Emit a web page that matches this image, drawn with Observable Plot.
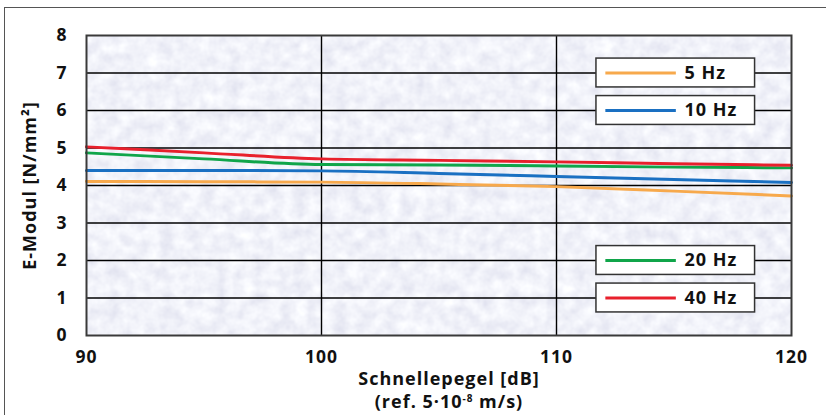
<!DOCTYPE html>
<html>
<head>
<meta charset="utf-8">
<script src="https://cdn.jsdelivr.net/npm/d3@7"></script>
<script src="https://cdn.jsdelivr.net/npm/@observablehq/plot@0.6"></script>
<style>
  html, body { margin: 0; padding: 0; background: #fff; }
  #wrap { position: relative; width: 826px; height: 415px; overflow: hidden; }
  #wrap svg { display: block; }
  #border { position: absolute; left: 4px; top: 7px; width: 900px; height: 500px;
            border: 1.5px solid #555; pointer-events: none; }
</style>
</head>
<body>
<div id="wrap"><div id="border"></div></div>
<script>
// ---- data ----
const xValues = [90, 95, 100, 105, 110, 115, 120];
const hz5  = [4.11, 4.10, 4.09, 4.04, 3.97, 3.85, 3.72];
const hz10 = [4.40, 4.40, 4.39, 4.32, 4.24, 4.16, 4.08];
const hz20 = [4.87, 4.71, 4.56, 4.55, 4.52, 4.49, 4.47];
const hz40 = [5.03, 4.87, 4.71, 4.67, 4.63, 4.58, 4.54];
const seriesNames = ["5 Hz", "10 Hz", "20 Hz", "40 Hz"];
const seriesColors = ["#f7a94c", "#1a70c2", "#10a54a", "#e8202c"];
const xTicks = [90, 100, 110, 120];
const yTicks = [0, 1, 2, 3, 4, 5, 6, 7, 8];
const yLabel = "E-Modul [N/mm²]";
const xLabelLine1 = "Schnellepegel [dB]";
const xLabelLine2 = "(ref. 5·10-8 m/s)";

// legend layout (gridline level each legend box sits on)
const legendLevels = [7, 6, 2, 1];

// ---- build table ----
const seriesValues = [hz5, hz10, hz20, hz40];
const rows = [];
seriesNames.forEach((name, i) => {
  xValues.forEach((x, j) => rows.push({series: name, x, y: seriesValues[i][j]}));
});
const legendRows = seriesNames.map((name, i) => ({series: name, level: legendLevels[i]}));

const font = "'Open Sans', 'DejaVu Sans', sans-serif";
const boxX1 = 111.7, boxX2 = 118.45, lineX1 = 112.1, lineX2 = 115.1, textX = 115.45, halfH = 0.385;

const chart = Plot.plot({
  width: 826,
  height: 415,
  marginLeft: 86,
  marginRight: 35,
  marginTop: 35,
  marginBottom: 80,
  style: {fontFamily: font, fontSize: "17px", fontWeight: "bold", color: "#111", background: "transparent"},
  x: {domain: [90, 120], label: null},
  y: {domain: [0, 8], label: null},
  color: {domain: seriesNames, range: seriesColors},
  marks: [
    Plot.frame({fill: "#dcdeea"}),
    Plot.gridY(yTicks.filter(v => v > 0 && v < 8), {stroke: "#000", strokeOpacity: 1, strokeWidth: 1.4}),
    Plot.gridX(xTicks.filter(v => v > 90 && v < 120), {stroke: "#000", strokeOpacity: 1, strokeWidth: 1.4}),
    Plot.line(rows, {x: "x", y: "y", z: "series", stroke: "series", strokeWidth: 3, curve: "monotone-x"}),
    Plot.frame({stroke: "#3a3a3a", strokeWidth: 2}),
    // legend
    Plot.rect(legendRows, {x1: boxX1, x2: boxX2, y1: d => d.level - halfH, y2: d => d.level + halfH,
      fill: "#fff", stroke: "#333", strokeWidth: 1.5}),
    Plot.ruleY(legendRows, {x1: lineX1, x2: lineX2, y: "level", stroke: "series", strokeWidth: 3}),
    Plot.text(legendRows, {x: textX, y: "level", text: "series", textAnchor: "start",
      fontSize: 18, fontWeight: "bold", fill: "#111", ariaLabel: "legendtext"}),
    // axes
    Plot.axisX(xTicks, {tickSize: 0, tickPadding: 15, fontSize: 17.5, fontWeight: "bold", label: null}),
    Plot.axisY(yTicks, {tickSize: 0, tickPadding: 19, fontSize: 17.5, fontWeight: "bold", label: null}),
    Plot.text([yLabel], {frameAnchor: "left", textAnchor: "middle", dx: -56, rotate: -90, fontSize: 18,
      fontWeight: "bold", fill: "#111", text: d => d, ariaLabel: "titletext"}),
    Plot.text([xLabelLine1], {frameAnchor: "bottom", dx: 10, dy: 37, lineAnchor: "top",
      fontSize: 18, fontWeight: "bold", fill: "#111", text: d => d, ariaLabel: "titletext"}),
    Plot.text([xLabelLine2], {frameAnchor: "bottom", dx: 10, dy: 60, lineAnchor: "top",
      fontSize: 18, fontWeight: "bold", fill: "#111", text: d => d, ariaLabel: "titletext"})
  ]
});

// marble texture for the plot background
const ns = "http://www.w3.org/2000/svg";
const defs = document.createElementNS(ns, "defs");
defs.innerHTML = `
  <filter id="marble" filterUnits="objectBoundingBox" x="0" y="0" width="1" height="1">
    <feTurbulence type="fractalNoise" baseFrequency="0.075" numOctaves="3" seed="11" result="n"/>
    <feColorMatrix in="n" type="matrix" values="
      0.30 0 0 0 0.73
      0.30 0 0 0 0.74
      0.20 0 0 0 0.85
      0 0 0 0 1"/>
  </filter>`;
chart.insertBefore(defs, chart.firstChild);
const frames = chart.querySelectorAll('[aria-label="frame"]');
if (frames.length) {
  let el = frames[0];
  if (el.tagName.toLowerCase() !== "rect") el = el.querySelector("rect") || el;
  el.setAttribute("filter", "url(#marble)");
}
chart.querySelectorAll("text").forEach(t => t.setAttribute("letter-spacing", "1"));
chart.querySelectorAll('[aria-label="legendtext"] text').forEach(t => t.setAttribute("letter-spacing", "1.6"));
chart.querySelectorAll('[aria-label="titletext"] text').forEach(t => t.setAttribute("letter-spacing", "2.2"));

// superscript exponent in the second x label line
chart.querySelectorAll("text").forEach(t => {
  if (t.textContent === xLabelLine2) {
    const parts = xLabelLine2.split("-8");
    t.textContent = "";
    const a = document.createElementNS(ns, "tspan"); a.textContent = parts[0];
    const s = document.createElementNS(ns, "tspan"); s.textContent = "-8";
    s.setAttribute("font-size", "10"); s.setAttribute("dy", "-6");
    const b = document.createElementNS(ns, "tspan"); b.textContent = parts[1]; b.setAttribute("dy", "6");
    t.append(a, s, b);
  }
});

document.getElementById("wrap").insertBefore(chart, document.getElementById("border"));
</script>
</body>
</html>
